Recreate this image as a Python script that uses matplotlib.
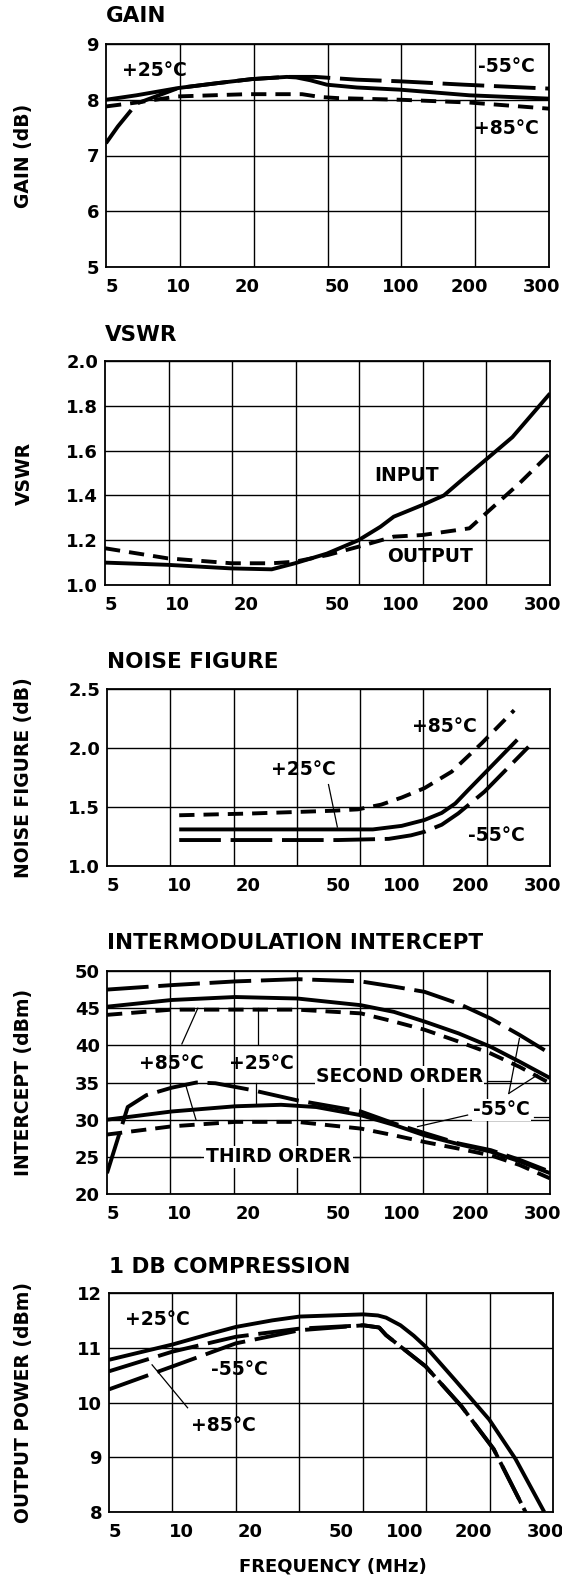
import numpy as np
import matplotlib
matplotlib.use("Agg")
import matplotlib.pyplot as plt
from matplotlib.transforms import ScaledTranslation
from matplotlib.ticker import NullLocator

plt.rcParams['font.family'] = ['DejaVu Sans']
plt.rcParams['font.weight'] = 'bold'
plt.rcParams['lines.scale_dashes'] = False

# ---------------- data ----------------
FREQ_TICKS = [5, 10, 20, 50, 100, 200, 300]
FREQ_LABELS = ['5', '10', '20', '50', '100', '200', '300']

# GAIN (dB)
gain_25_f = [5, 6.7, 10, 15, 21, 30, 33, 38, 45, 62, 100, 200, 300]
gain_25_v = [8.0, 8.08, 8.21, 8.3, 8.37, 8.41, 8.40, 8.35, 8.27, 8.22, 8.18, 8.08, 8.02]
gain_m55_f = [5, 5.6, 6.7, 10, 15, 21, 30, 40, 62, 100, 190, 300]
gain_m55_v = [7.22, 7.52, 7.93, 8.21, 8.3, 8.37, 8.41, 8.41, 8.36, 8.33, 8.27, 8.2]
gain_85_f = [5, 6.7, 10, 20, 35, 42, 50, 100, 200, 300]
gain_85_v = [7.88, 7.95, 8.06, 8.1, 8.1, 8.05, 8.03, 8.0, 7.95, 7.84]

# VSWR
vswr_in_f = [5, 9.1, 17.2, 25.8, 32.6, 45, 63, 80, 92.5, 124, 154, 185, 217, 248, 300]
vswr_in_v = [1.10, 1.09, 1.074, 1.07, 1.097, 1.14, 1.20, 1.26, 1.305, 1.357, 1.40, 1.47, 1.56, 1.66, 1.855]
vswr_out_f = [5, 9.1, 17.2, 25.8, 32.6, 45.5, 63, 92.5, 124, 199, 217, 257, 300]
vswr_out_v = [1.164, 1.119, 1.097, 1.097, 1.104, 1.134, 1.171, 1.216, 1.223, 1.253, 1.32, 1.454, 1.588]

# NOISE FIGURE (dB)
nf_85_f = [10, 20.7, 47, 62, 80, 100, 126, 166, 212, 250]
nf_85_v = [1.43, 1.445, 1.468, 1.48, 1.52, 1.58, 1.66, 1.80, 2.04, 2.32]
nf_25_f = [10, 50, 73, 100, 126, 150, 172, 195, 215, 254]
nf_25_v = [1.31, 1.31, 1.31, 1.34, 1.39, 1.45, 1.53, 1.64, 1.785, 2.07]
nf_m55_f = [10, 50, 87, 110, 126, 150, 177, 215, 269]
nf_m55_v = [1.22, 1.22, 1.23, 1.26, 1.29, 1.35, 1.445, 1.63, 2.01]

# INTERMODULATION INTERCEPT (dBm)
im2_f = [5, 9.3, 17.6, 33, 64, 92, 126, 178, 222, 257, 300]
im2_m55_v = [47.5, 48.1, 48.6, 48.9, 48.6, 47.9, 47.2, 45.6, 43.6, 41.4, 38.9]
im2_25_v = [45.2, 46.1, 46.5, 46.3, 45.4, 44.5, 43.2, 41.6, 39.8, 37.8, 35.6]
im2_85_v = [44.1, 44.8, 44.8, 44.8, 44.3, 43.2, 42.1, 40.5, 38.9, 37.1, 34.9]
im3_m55_f = [5, 6.1, 7.3, 9.3, 11.9, 14.4, 20.7, 33, 64, 92, 126, 178, 222, 257, 300]
im3_m55_v = [22.8, 31.7, 33.3, 34.3, 35.0, 34.9, 34.0, 32.6, 31.1, 29.5, 28.2, 26.8, 25.9, 24.6, 23.0]
im3_25_f = [5, 9.3, 17.6, 28, 40, 64, 92, 126, 178, 222, 257, 300]
im3_25_v = [30.0, 31.1, 31.8, 32.0, 31.7, 30.6, 29.3, 27.9, 26.7, 25.7, 24.4, 22.8]
im3_85_f = [5, 9.3, 17.6, 33, 64, 92, 126, 178, 222, 257, 300]
im3_85_v = [28.0, 29.1, 29.7, 29.7, 28.8, 27.9, 27.0, 26.1, 25.2, 23.9, 22.1]

# 1 DB COMPRESSION (dBm)
comp_25_f = [5, 9.2, 13, 17.3, 25, 33, 64, 75, 82, 96, 110, 124, 166, 217, 248, 287]
comp_25_v = [10.78, 11.06, 11.24, 11.38, 11.5, 11.57, 11.61, 11.59, 11.55, 11.41, 11.22, 11.02, 10.42, 9.69, 8.97, 8.0]
comp_85_f = [5, 9.2, 17.3, 33, 64, 76, 82, 124, 178, 222, 261]
comp_85_v = [10.57, 10.93, 11.20, 11.35, 11.41, 11.37, 11.23, 10.66, 9.93, 9.15, 8.0]
comp_m55_f = [5, 9.2, 17.3, 33, 64, 76, 82, 124, 178, 222, 261]
comp_m55_v = [10.24, 10.66, 11.08, 11.32, 11.41, 11.37, 11.23, 10.66, 9.93, 9.15, 8.0]

# ---------------- frequency scale (as printed on the sheet) ----------------
TICK_POS = [0.0, 0.163, 0.318, 0.522, 0.665, 0.82, 1.0]
LOGF = np.log10(FREQ_TICKS)


def fwd(f):
    f = np.asarray(f, dtype=float)
    return np.interp(np.log10(np.clip(f, 1e-6, None)), LOGF, TICK_POS)


def inv(p):
    return 10 ** np.interp(np.asarray(p, dtype=float), TICK_POS, LOGF)


W, H = 562, 1583
fig = plt.figure(figsize=(W / 100, H / 100), dpi=100)

LW = 2.8
SOLID = dict(color='black', lw=LW, solid_capstyle='butt', solid_joinstyle='round')
LONG = dict(color='black', lw=LW, linestyle=(0, (30, 7)))
SHORT = dict(color='black', lw=LW, linestyle=(0, (11, 6.5)))
TXT = dict(fontsize=13.5, fontweight='bold', ha='center', va='center')


def make_axes(l, t, r, b, ylim, yticks, ylabels, ncols, title, title_y, ylabel):
    ax = fig.add_axes([l / W, 1 - b / H, (r - l) / W, (b - t) / H])
    ax.set_xscale('function', functions=(fwd, inv))
    ax.set_xlim(5, 300)
    ax.set_ylim(*ylim)
    ax.set_xticks(FREQ_TICKS, FREQ_LABELS)
    ax.xaxis.set_minor_locator(NullLocator())
    ax.set_yticks(yticks, ylabels)
    ax.tick_params(length=0, labelsize=13)
    ax.tick_params(axis='x', pad=8)
    ax.tick_params(axis='y', pad=5)
    for s in ax.spines.values():
        s.set_linewidth(1.3)
    ax.grid(axis='y', color='black', lw=1.0)
    for i in range(1, ncols):
        ax.plot([i / ncols, i / ncols], [0, 1], transform=ax.transAxes,
                color='black', lw=1.0, zorder=1)
    labs = ax.get_xticklabels()
    labs[0].set_transform(labs[0].get_transform() + ScaledTranslation(0.06, 0, fig.dpi_scale_trans))
    labs[-1].set_transform(labs[-1].get_transform() + ScaledTranslation(-0.07, 0, fig.dpi_scale_trans))
    fig.text(l / W, 1 - title_y / H, title, fontsize=15.5, fontweight='bold',
             ha='left', va='center')
    fig.text(24 / W, 1 - (t + b) / 2 / H, ylabel, fontsize=13.5, fontweight='bold',
             rotation=90, ha='center', va='center')
    return ax


def lead(ax, pts):
    xs, ys = zip(*pts)
    ax.plot(xs, ys, transform=ax.transAxes, color='black', lw=0.9, zorder=6)


def label(ax, x, y, s, box=True):
    kw = dict(TXT)
    if box:
        kw['bbox'] = dict(facecolor='white', edgecolor='none', pad=1.0)
    ax.text(x, y, s, transform=ax.transAxes, zorder=7, **kw)


# ---- GAIN ----
ax = make_axes(106, 44, 549, 267, (5, 9), [5, 6, 7, 8, 9],
               ['5', '6', '7', '8', '9'], 6, 'GAIN', 16, 'GAIN (dB)')
ax.plot(gain_m55_f, gain_m55_v, zorder=3, **LONG)
ax.plot(gain_85_f, gain_85_v, zorder=4, **SHORT)
ax.plot(gain_25_f, gain_25_v, zorder=5, **SOLID)
label(ax, 0.11, 0.883, '+25°C', box=False)
label(ax, 0.905, 0.897, '-55°C', box=False)
label(ax, 0.905, 0.623, '+85°C', box=False)

# ---- VSWR ----
ax = make_axes(105, 361, 550, 585, (1.0, 2.0), [1.0, 1.2, 1.4, 1.6, 1.8, 2.0],
               ['1.0', '1.2', '1.4', '1.6', '1.8', '2.0'], 7, 'VSWR', 335, 'VSWR')
ax.plot(vswr_out_f, vswr_out_v, zorder=4, **SHORT)
ax.plot(vswr_in_f, vswr_in_v, zorder=5, **SOLID)
label(ax, 0.677, 0.49, 'INPUT', box=False)
label(ax, 0.73, 0.126, 'OUTPUT', box=False)

# ---- NOISE FIGURE ----
ax = make_axes(107, 689, 550, 866, (1.0, 2.5), [1.0, 1.5, 2.0, 2.5],
               ['1.0', '1.5', '2.0', '2.5'], 7, 'NOISE FIGURE', 662, 'NOISE FIGURE (dB)')
ax.plot(nf_m55_f, nf_m55_v, zorder=3, **LONG)
ax.plot(nf_85_f, nf_85_v, zorder=4, **SHORT)
ax.plot(nf_25_f, nf_25_v, zorder=5, **SOLID)
label(ax, 0.762, 0.79, '+85°C', box=False)
label(ax, 0.443, 0.545, '+25°C', box=False)
label(ax, 0.879, 0.174, '-55°C', box=False)
lead(ax, [(0.50, 0.46), (0.52, 0.22)])

# ---- INTERMODULATION INTERCEPT ----
ax = make_axes(107, 971, 550, 1194, (20, 50), [20, 25, 30, 35, 40, 45, 50],
               ['20', '25', '30', '35', '40', '45', '50'], 7,
               'INTERMODULATION INTERCEPT', 943, 'INTERCEPT (dBm)')
ax.plot(im2_f, im2_m55_v, zorder=3, **LONG)
ax.plot(im2_f, im2_85_v, zorder=4, **SHORT)
ax.plot(im2_f, im2_25_v, zorder=5, **SOLID)
ax.plot(im3_m55_f, im3_m55_v, zorder=3, **LONG)
ax.plot(im3_85_f, im3_85_v, zorder=4, **SHORT)
ax.plot(im3_25_f, im3_25_v, zorder=5, **SOLID)
lead(ax, [(0.169, 0.673), (0.205, 0.833)])
lead(ax, [(0.177, 0.493), (0.201, 0.332)])
lead(ax, [(0.341, 0.673), (0.341, 0.833)])
lead(ax, [(0.336, 0.496), (0.336, 0.399)])
lead(ax, [(0.86, 0.508), (0.911, 0.508)])
lead(ax, [(0.907, 0.451), (0.931, 0.698)])
lead(ax, [(0.907, 0.451), (0.972, 0.534)])
lead(ax, [(0.814, 0.354), (0.701, 0.302)])
lead(ax, [(0.964, 0.347), (1.0, 0.347)])
lead(ax, [(0.147, 0.167), (0.209, 0.167)])
lead(ax, [(0.56, 0.167), (0.575, 0.167)])
label(ax, 0.145, 0.586, '+85°C', box=False)
label(ax, 0.349, 0.586, '+25°C', box=False)
label(ax, 0.66, 0.526, 'SECOND ORDER')
label(ax, 0.891, 0.377, '-55°C')
label(ax, 0.387, 0.167, 'THIRD ORDER')

# ---- 1 DB COMPRESSION ----
ax = make_axes(109, 1293, 553, 1512, (8, 12), [8, 9, 10, 11, 12],
               ['8', '9', '10', '11', '12'], 7, '1 DB COMPRESSION', 1267,
               'OUTPUT POWER (dBm)')
ax.plot(comp_m55_f, comp_m55_v, zorder=3, **LONG)
ax.plot(comp_85_f, comp_85_v, zorder=4, **LONG)
ax.plot(comp_25_f, comp_25_v, zorder=5, **SOLID)
label(ax, 0.108, 0.877, '+25°C', box=False)
label(ax, 0.294, 0.65, '-55°C', box=False)
label(ax, 0.258, 0.393, '+85°C', box=False)
lead(ax, [(0.097, 0.672), (0.177, 0.476)])

fig.text(333 / W, 1 - 1567 / H, 'FREQUENCY (MHz)', fontsize=13, fontweight='bold',
         ha='center', va='center')

fig.savefig('out.png', dpi=100)
